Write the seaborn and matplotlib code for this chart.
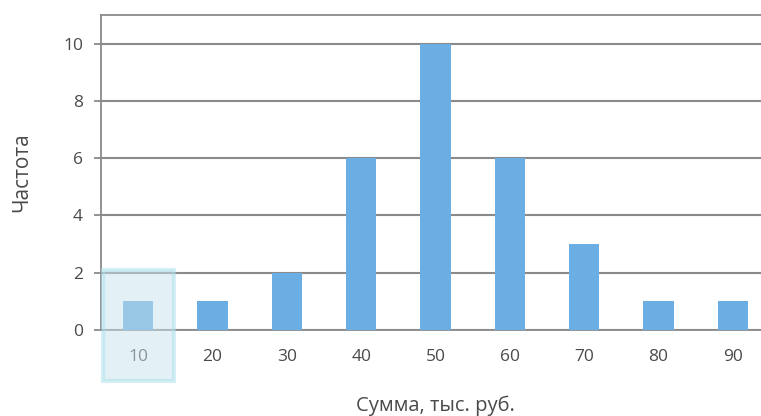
# Frequency histogram of sums (thousand rubles)
import pandas as pd
import matplotlib.pyplot as plt
import seaborn as sns
from matplotlib.patches import Rectangle
from matplotlib.ticker import FixedLocator

# ========= Data =========
sums = ['10', '20', '30', '40', '50', '60', '70', '80', '90']
freq = [1, 1, 2, 6, 10, 6, 3, 1, 1]
df = pd.DataFrame({'sum': sums, 'freq': freq})

# ========= Style =========
sns.set_style('white')
plt.rcParams['font.family'] = ['Open Sans', 'DejaVu Sans']

fig = plt.figure(figsize=(7.61, 4.16), dpi=100)
ax = fig.add_axes([101 / 761, 86 / 416, 669 / 761, 315 / 416])

sns.barplot(data=df, x='sum', y='freq', color='#6aaee3', saturation=1,
            width=0.41, linewidth=0, ax=ax, zorder=3)

ax.set_ylim(0, 11)
ax.set_xlim(-0.5, 8.5)
ax.set_yticks([0, 2, 4, 6, 8, 10])
ax.yaxis.grid(True, color='#8a8a8a', linewidth=1.5, zorder=0)
ax.set_axisbelow(True)

grey = '#8a8a8a'
for side in ['top', 'left', 'bottom']:
    ax.spines[side].set_color(grey)
    ax.spines[side].set_linewidth(1.3)
ax.spines['right'].set_visible(False)

# tick marks between categories on x, outward on y
ax.xaxis.set_minor_locator(FixedLocator([i + 0.5 for i in range(-1, 9)]))
ax.tick_params(axis='x', which='major', length=0, pad=14, labelsize=12.5, labelcolor='#4a4a4a')
ax.tick_params(axis='x', which='minor', length=5, width=1.3, color=grey, direction='out')
ax.tick_params(axis='y', length=5, width=1.3, color=grey, pad=8, labelsize=12.5,
               labelcolor='#4a4a4a', left=True)

ax.set_xlabel('Сумма, тыс. руб.', fontsize=14.5, color='#4a4a4a', labelpad=22)
ax.set_ylabel('Частота', fontsize=15, color='#4a4a4a', labelpad=22)

# highlight around the first category
ax.add_patch(Rectangle((-0.47, -1.78), 0.95, 3.88, facecolor='#c9e2ec', alpha=0.5,
                       edgecolor='#a8dfea', linewidth=3, clip_on=False, zorder=5))

fig.savefig('out.png', dpi=100)
